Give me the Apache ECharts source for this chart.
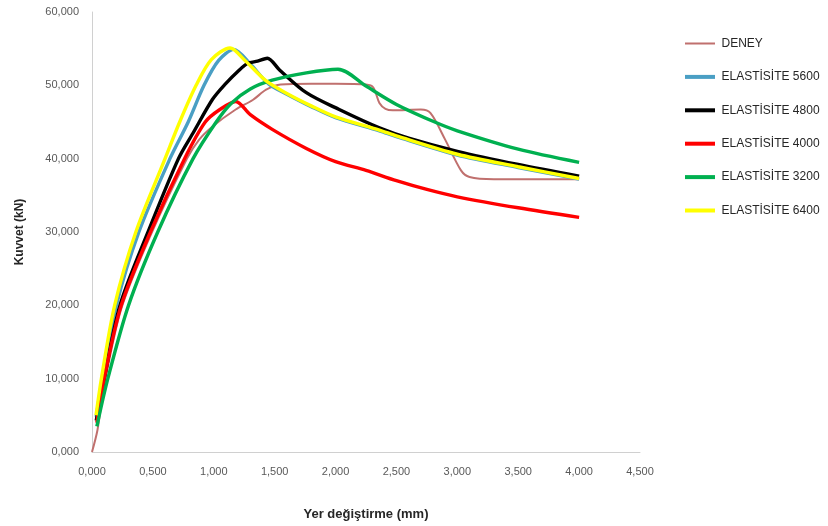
<!DOCTYPE html>
<html>
<head>
<meta charset="utf-8">
<script src="https://cdn.jsdelivr.net/npm/echarts@6/dist/echarts.min.js"></script>
<style>
html,body{margin:0;padding:0;background:#fff;}
#chart{width:828px;height:526px;}
</style>
</head>
<body>
<div id="chart"></div>
<script>
// Displacement (mm) vs force (kN) pairs
const seriesNames = ['DENEY', 'ELASTİSİTE 5600', 'ELASTİSİTE 4800', 'ELASTİSİTE 4000', 'ELASTİSİTE 3200', 'ELASTİSİTE 6400'];

const deneyData = [
  [0, 0], [0.045, 3.0], [0.10, 9.0], [0.24, 19.5], [0.48, 29.5], [0.78, 40.0],
  [0.88, 42.6], [0.99, 44.4], [1.18, 46.7], [1.32, 48.0], [1.43, 49.4], [1.55, 50.1],
  [1.8, 50.2], [2.0, 50.2], [2.25, 50.1], [2.31, 49.7], [2.36, 47.6], [2.41, 46.8],
  [2.47, 46.6], [2.7, 46.7], [2.78, 46.2], [2.9, 42.6], [3.03, 38.4], [3.1, 37.5],
  [3.3, 37.2], [4.0, 37.2]
];
const e5600Data = [
  [0.035, 4.8], [0.085, 10.0], [0.20, 20.0], [0.385, 30.0], [0.64, 40.0], [0.79, 45.0],
  [0.92, 50.0], [1.04, 53.4], [1.165, 54.9], [1.3, 52.9], [1.45, 50.2], [1.6, 48.8],
  [1.8, 47.1], [2.0, 45.6], [2.36, 43.8], [2.5, 43.0], [3.0, 40.5], [3.5, 38.8], [4.0, 37.2]
];
const e4800Data = [
  [0.035, 4.3], [0.10, 10.0], [0.23, 20.0], [0.46, 30.0], [0.71, 40.0], [0.83, 43.5],
  [0.99, 48.1], [1.09, 50.1], [1.21, 52.1], [1.28, 53.0], [1.36, 53.3], [1.44, 53.7],
  [1.54, 52.1], [1.76, 49.0], [2.03, 46.7], [2.36, 44.2], [2.6, 42.8], [3.0, 41.0],
  [3.5, 39.2], [4.0, 37.6]
];
const e4000Data = [
  [0.04, 4.0], [0.10, 10.0], [0.24, 20.0], [0.48, 30.0], [0.76, 40.0], [0.93, 45.0],
  [1.05, 46.7], [1.18, 47.8], [1.3, 46.0], [1.48, 44.0], [1.76, 41.4], [2.0, 39.6],
  [2.25, 38.4], [2.5, 37.0], [2.75, 35.8], [3.0, 34.8], [3.5, 33.3], [4.0, 32.0]
];
const e3200Data = [
  [0.04, 3.5], [0.13, 10.0], [0.30, 20.0], [0.54, 30.0], [0.83, 40.0], [1.02, 45.0],
  [1.14, 47.5], [1.3, 49.5], [1.48, 50.7], [1.76, 51.7], [2.02, 52.2], [2.25, 49.9],
  [2.5, 47.4], [2.8, 45.1], [3.0, 43.8], [3.5, 41.3], [4.0, 39.5]
];
const e6400Data = [
  [0.033, 5.0], [0.077, 10.0], [0.186, 20.0], [0.36, 30.0], [0.60, 40.0], [0.72, 45.0],
  [0.855, 50.0], [0.98, 53.5], [1.134, 55.1], [1.25, 53.5], [1.43, 50.6], [1.6, 48.9],
  [1.8, 47.2], [2.0, 45.7], [2.36, 43.9], [2.5, 43.1], [3.0, 40.6], [3.5, 38.9], [4.0, 37.3]
];

const xTicks = { min: 0, max: 4.5, interval: 0.5 };
const yTicks = { min: 0, max: 60, interval: 10 };

const colors = ['#c0706e', '#4a9fc4', '#000000', '#ff0000', '#00b050', '#ffff00'];
const widths = [2, 3.4, 3.4, 3.4, 3.4, 3.4];
const dataSets = [deneyData, e5600Data, e4800Data, e4000Data, e3200Data, e6400Data];

// legend bars: thin for DENEY, thicker for the models
const thinBar = 'path://M0,0 L0,4 M0,1 L30,1 L30,3 L0,3 Z';
const thickBar = 'path://M0,0 L30,0 L30,4 L0,4 Z';

const fmt = v => v.toFixed(3).replace('.', ',');
const font = 'Liberation Sans';

const chart = echarts.init(document.getElementById('chart'), null, { renderer: 'canvas' });
chart.setOption({
  animation: false,
  backgroundColor: '#ffffff',
  grid: { left: 92, right: 188, top: 12, bottom: 72, containLabel: false },
  legend: {
    orient: 'vertical',
    left: 680,
    top: 31.5,
    itemWidth: 33,
    itemHeight: 4,
    itemGap: 19.4,
    itemStyle: { borderWidth: 0 },
    textStyle: { fontFamily: font, fontSize: 12, color: '#262626', lineHeight: 14 },
    data: seriesNames.map((n, i) => ({ name: n, icon: i === 0 ? thinBar : thickBar }))
  },
  xAxis: {
    type: 'value',
    min: xTicks.min, max: xTicks.max, interval: xTicks.interval,
    name: 'Yer değiştirme (mm)',
    nameLocation: 'middle',
    nameGap: 56,
    nameTextStyle: { fontFamily: font, fontSize: 13, fontWeight: 'bold', color: '#262626' },
    axisLine: { show: true, lineStyle: { color: '#d0d0d0', width: 1 } },
    axisTick: { show: false },
    splitLine: { show: false },
    axisLabel: { formatter: fmt, fontFamily: font, fontSize: 11, color: '#595959', margin: 14 }
  },
  yAxis: {
    type: 'value',
    min: yTicks.min, max: yTicks.max, interval: yTicks.interval,
    name: 'Kuvvet (kN)',
    nameLocation: 'middle',
    nameGap: 66,
    nameTextStyle: { fontFamily: font, fontSize: 12, fontWeight: 'bold', color: '#262626' },
    axisLine: { show: true, lineStyle: { color: '#d0d0d0', width: 1 } },
    axisTick: { show: false },
    splitLine: { show: false },
    axisLabel: { formatter: fmt, fontFamily: font, fontSize: 11, color: '#595959', margin: 13 }
  },
  series: seriesNames.map((name, i) => ({
    name: name,
    type: 'line',
    data: dataSets[i],
    showSymbol: false,
    symbol: 'none',
    smooth: 0.3,
    color: colors[i],
    lineStyle: { color: colors[i], width: widths[i] },
    z: 2 + i
  }))
});
</script>
</body>
</html>
